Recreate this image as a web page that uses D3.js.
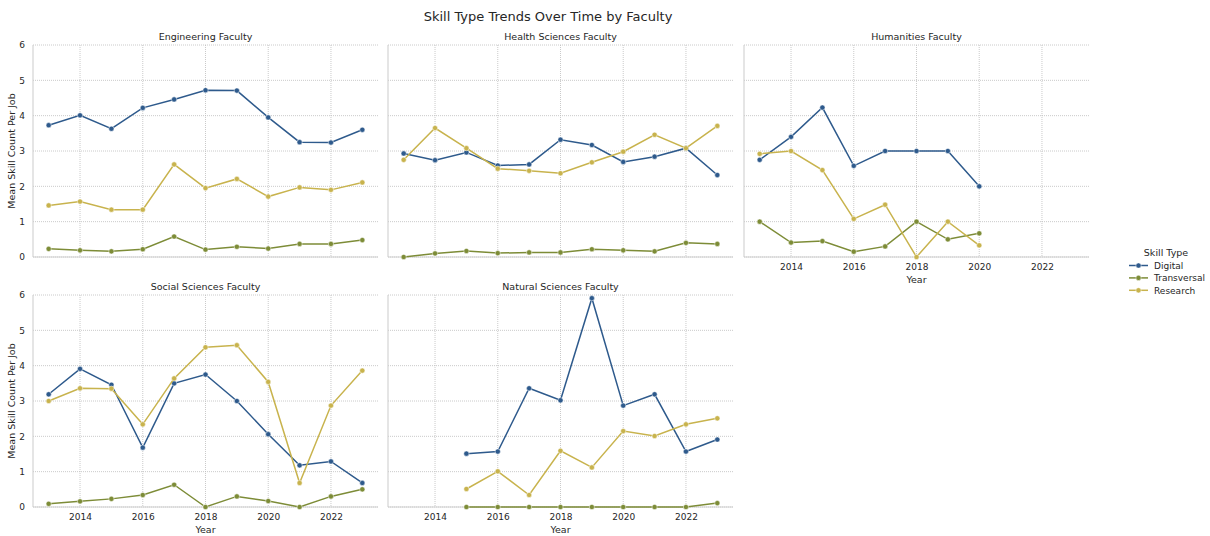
<!DOCTYPE html>
<html>
<head>
<meta charset="utf-8">
<script src="https://cdn.jsdelivr.net/npm/d3@7"></script>
<style>
  html, body { margin: 0; padding: 0; background: #fff; }
  svg { display: block; font-family: "DejaVu Sans", sans-serif; }
</style>
</head>
<body>
<svg id="chart" width="1210" height="536"></svg>
<script>
// Mean skill counts per job posting, by faculty and year
const faculties = ["Engineering Faculty", "Health Sciences Faculty", "Humanities Faculty",
                   "Social Sciences Faculty", "Natural Sciences Faculty"];
const skillTypes = ["Digital", "Transversal", "Research"];
const skillColors = ["#2e5a8c", "#7d8c37", "#c8b34d"];

const engineeringYears = [2013, 2014, 2015, 2016, 2017, 2018, 2019, 2020, 2021, 2022, 2023];
const engineeringDigital = [3.73, 4.01, 3.63, 4.22, 4.46, 4.72, 4.71, 3.95, 3.25, 3.24, 3.60];
const engineeringTransversal = [0.23, 0.19, 0.16, 0.22, 0.58, 0.21, 0.29, 0.24, 0.37, 0.37, 0.48];
const engineeringResearch = [1.46, 1.57, 1.34, 1.34, 2.62, 1.95, 2.21, 1.71, 1.97, 1.90, 2.11];

const healthYears = [2013, 2014, 2015, 2016, 2017, 2018, 2019, 2020, 2021, 2022, 2023];
const healthDigital = [2.93, 2.74, 2.96, 2.59, 2.62, 3.32, 3.17, 2.69, 2.84, 3.08, 2.32];
const healthTransversal = [0.00, 0.10, 0.17, 0.11, 0.13, 0.13, 0.22, 0.19, 0.16, 0.40, 0.37];
const healthResearch = [2.75, 3.65, 3.08, 2.50, 2.44, 2.37, 2.68, 2.98, 3.46, 3.08, 3.71];

const humanitiesYears = [2013, 2014, 2015, 2016, 2017, 2018, 2019, 2020];
const humanitiesDigital = [2.75, 3.40, 4.23, 2.58, 3.00, 3.00, 3.00, 2.00];
const humanitiesTransversal = [1.00, 0.41, 0.45, 0.15, 0.30, 1.00, 0.50, 0.67];
const humanitiesResearch = [2.92, 3.00, 2.46, 1.08, 1.48, 0.00, 1.00, 0.33];

const socialYears = [2013, 2014, 2015, 2016, 2017, 2018, 2019, 2020, 2021, 2022, 2023];
const socialDigital = [3.19, 3.91, 3.46, 1.68, 3.50, 3.75, 3.00, 2.06, 1.18, 1.29, 0.68];
const socialTransversal = [0.09, 0.16, 0.23, 0.34, 0.63, 0.00, 0.30, 0.17, 0.00, 0.30, 0.50];
const socialResearch = [3.00, 3.36, 3.35, 2.34, 3.64, 4.52, 4.58, 3.54, 0.68, 2.87, 3.86];

const naturalYears = [2015, 2016, 2017, 2018, 2019, 2020, 2021, 2022, 2023];
const naturalDigital = [1.51, 1.57, 3.36, 3.02, 5.91, 2.87, 3.19, 1.57, 1.91];
const naturalTransversal = [0.00, 0.00, 0.00, 0.00, 0.00, 0.00, 0.00, 0.00, 0.11];
const naturalResearch = [0.51, 1.01, 0.34, 1.59, 1.12, 2.15, 2.01, 2.34, 2.51];

const xTicks = [2014, 2016, 2018, 2020, 2022];
const yTicks = [0, 1, 2, 3, 4, 5, 6];

const panels = [
  { years: engineeringYears, series: [engineeringDigital, engineeringTransversal, engineeringResearch] },
  { years: healthYears, series: [healthDigital, healthTransversal, healthResearch] },
  { years: humanitiesYears, series: [humanitiesDigital, humanitiesTransversal, humanitiesResearch] },
  { years: socialYears, series: [socialDigital, socialTransversal, socialResearch] },
  { years: naturalYears, series: [naturalDigital, naturalTransversal, naturalResearch] }
];

const svg = d3.select("#chart");
const panelW = 345, panelH = 212;
const colX = [33, 388, 744];
const rowY = [45, 295];

const x = d3.scaleLinear().domain([2012.5, 2023.5]).range([0, panelW]);
const y = d3.scaleLinear().domain([0, 6]).range([panelH, 0]);

const gridColor = "#bdbdbd";
const textColor = "#262626";

svg.append("text")
  .attr("x", 548).attr("y", 21)
  .attr("text-anchor", "middle")
  .attr("font-size", 13)
  .attr("fill", textColor)
  .text("Skill Type Trends Over Time by Faculty");

panels.forEach((p, i) => {
  const col = i % 3, row = Math.floor(i / 3);
  const g = svg.append("g").attr("transform", `translate(${colX[col]},${rowY[row]})`);

  // dotted grid
  g.append("g").selectAll("line").data(yTicks).join("line")
    .attr("x1", 0).attr("x2", panelW)
    .attr("y1", d => y(d)).attr("y2", d => y(d))
    .attr("stroke", gridColor).attr("stroke-width", 0.8).attr("stroke-dasharray", "1,1");
  g.append("g").selectAll("line").data(xTicks).join("line")
    .attr("x1", d => x(d)).attr("x2", d => x(d))
    .attr("y1", 0).attr("y2", panelH)
    .attr("stroke", gridColor).attr("stroke-width", 0.8).attr("stroke-dasharray", "1,1");

  // left and bottom spines
  g.append("line").attr("x1", 0).attr("x2", 0).attr("y1", 0).attr("y2", panelH)
    .attr("stroke", "#d0d0d0").attr("stroke-width", 1.1);
  g.append("line").attr("x1", 0).attr("x2", panelW).attr("y1", panelH).attr("y2", panelH)
    .attr("stroke", "#d0d0d0").attr("stroke-width", 1.1);

  g.append("text")
    .attr("x", panelW / 2).attr("y", -5)
    .attr("text-anchor", "middle")
    .attr("font-size", 9.5)
    .attr("fill", textColor)
    .text(faculties[i]);

  // y axis labels on left column
  if (col === 0) {
    const ya = g.append("g").call(d3.axisLeft(y).tickValues(yTicks).tickFormat(d3.format("d"))
      .tickSize(0).tickPadding(8));
    ya.select(".domain").remove();
    ya.selectAll("text").attr("font-size", 9).attr("fill", textColor)
      .attr("font-family", "DejaVu Sans, sans-serif");
    g.append("text")
      .attr("transform", `translate(-18,${panelH / 2}) rotate(-90)`)
      .attr("text-anchor", "middle")
      .attr("font-size", 9.5)
      .attr("fill", textColor)
      .text("Mean Skill Count Per Job");
  }

  // x axis labels on bottom-most panel of each column
  if (row === 1 || col === 2) {
    const xa = g.append("g").attr("transform", `translate(0,${panelH})`)
      .call(d3.axisBottom(x).tickValues(xTicks).tickFormat(d3.format("d")).tickSize(0).tickPadding(7));
    xa.select(".domain").remove();
    xa.selectAll("text").attr("font-size", 9).attr("fill", textColor)
      .attr("font-family", "DejaVu Sans, sans-serif");
    g.append("text")
      .attr("x", panelW / 2).attr("y", panelH + 26)
      .attr("text-anchor", "middle")
      .attr("font-size", 9.5)
      .attr("fill", textColor)
      .text("Year");
  }

  const line = d3.line().x(d => x(d[0])).y(d => y(d[1]));
  p.series.forEach((vals, s) => {
    const pts = p.years.map((yr, k) => [yr, vals[k]]);
    g.append("path").datum(pts)
      .attr("d", line)
      .attr("fill", "none")
      .attr("stroke", skillColors[s])
      .attr("stroke-width", 1.5);
    g.append("g").selectAll("circle").data(pts).join("circle")
      .attr("cx", d => x(d[0])).attr("cy", d => y(d[1]))
      .attr("r", 2.6)
      .attr("fill", skillColors[s])
      .attr("stroke", "#fff").attr("stroke-width", 0.5);
  });
});

// legend
const lg = svg.append("g").attr("transform", "translate(1129,0)");
lg.append("text").attr("x", 37).attr("y", 256)
  .attr("text-anchor", "middle").attr("font-size", 9.5).attr("fill", textColor)
  .text("Skill Type");
skillTypes.forEach((name, s) => {
  const yy = 265.5 + s * 12.4;
  lg.append("line").attr("x1", 0).attr("x2", 19).attr("y1", yy).attr("y2", yy)
    .attr("stroke", skillColors[s]).attr("stroke-width", 1.5);
  lg.append("circle").attr("cx", 9.5).attr("cy", yy).attr("r", 2.6)
    .attr("fill", skillColors[s]).attr("stroke", "#fff").attr("stroke-width", 0.5);
  lg.append("text").attr("x", 25).attr("y", yy + 3.3)
    .attr("font-size", 9).attr("fill", textColor).text(name);
});
</script>
</body>
</html>
